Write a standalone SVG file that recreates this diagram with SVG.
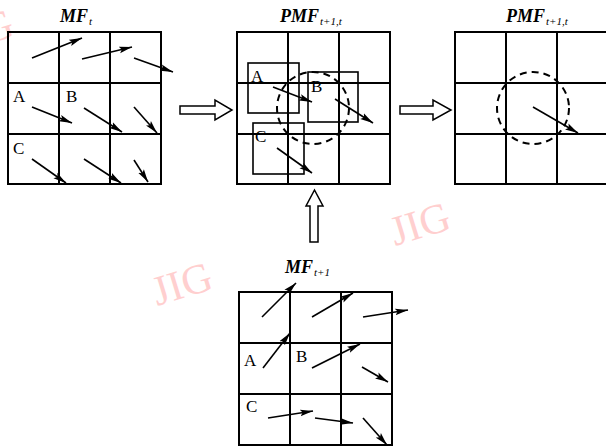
<svg xmlns="http://www.w3.org/2000/svg" width="606" height="446" viewBox="0 0 606 446">
<defs>
<marker id="ah" markerUnits="userSpaceOnUse" markerWidth="14" markerHeight="8" refX="13" refY="4" orient="auto">
<path d="M0,0.6 L13,4 L0,7.4 L2.5,4 Z" fill="#000"/>
</marker>
</defs>
<style>
.grid{fill:none;stroke:#000;stroke-width:2}
.vec{stroke:#000;stroke-width:1.6;fill:none;marker-end:url(#ah)}
.box{fill:none;stroke:#000;stroke-width:1.6}
.dash{fill:none;stroke:#000;stroke-width:2;stroke-dasharray:7 5}
.lbl{font-family:"Liberation Serif",serif;font-size:17px;fill:#000}
.ttl{font-family:"Liberation Serif",serif;font-size:18px;font-weight:bold;font-style:italic;fill:#000}
.sub{font-size:11px;font-weight:normal}
.blk{fill:#fff;stroke:#000;stroke-width:1.5}
.wm{font-family:"Liberation Serif",serif;font-size:42px;fill:#ffcfcf}
</style>
<rect width="606" height="446" fill="#fff"/>
<g id="watermarks">
<text class="wm" transform="translate(-42,53) rotate(-17)">JIG</text>
<text class="wm" transform="translate(157,306) rotate(-17)">JIG</text>
<text class="wm" transform="translate(395,246) rotate(-17)">JIG</text>
</g>
<g id="mf-t">
<text class="ttl" x="60" y="22">MF<tspan class="sub" dx="1" dy="3">t</tspan></text>
<rect class="grid" x="8" y="32" width="153" height="152"/>
<path class="grid" d="M59,32V184M110,32V184M8,83H161M8,134H161"/>
<text class="lbl" x="13" y="102">A</text>
<text class="lbl" x="66" y="102">B</text>
<text class="lbl" x="13" y="154">C</text>
<line class="vec" x1="32" y1="58" x2="82" y2="38"/>
<line class="vec" x1="82" y1="59" x2="132" y2="47"/>
<line class="vec" x1="134" y1="58" x2="173" y2="72"/>
<line class="vec" x1="32" y1="107" x2="72" y2="123"/>
<line class="vec" x1="84" y1="108" x2="122" y2="132"/>
<line class="vec" x1="134" y1="107" x2="157" y2="133"/>
<line class="vec" x1="32" y1="159" x2="66" y2="183"/>
<line class="vec" x1="84" y1="159" x2="121" y2="183"/>
<line class="vec" x1="134" y1="160" x2="148" y2="182"/>
</g>
<g id="pmf-mid">
<text class="ttl" x="280" y="22">PMF<tspan class="sub" dx="1" dy="3">t+1,t</tspan></text>
<rect class="grid" x="237" y="32" width="153" height="152"/>
<path class="grid" d="M288,32V184M339,32V184M237,83H390M237,134H390"/>
<rect class="box" x="248" y="63" width="51" height="50"/>
<rect class="box" x="308" y="72" width="50" height="50"/>
<rect class="box" x="253" y="123" width="51" height="51"/>
<circle class="dash" cx="313" cy="108" r="36"/>
<text class="lbl" x="251" y="82">A</text>
<text class="lbl" x="311" y="92">B</text>
<text class="lbl" x="255" y="142">C</text>
<line class="vec" x1="273" y1="87" x2="312" y2="102"/>
<line class="vec" x1="335" y1="99" x2="373" y2="123"/>
<line class="vec" x1="277" y1="148" x2="312" y2="173"/>
</g>
<g id="pmf-right">
<text class="ttl" x="506" y="22">PMF<tspan class="sub" dx="1" dy="3">t+1,t</tspan></text>
<rect class="grid" x="455" y="32" width="153" height="152"/>
<path class="grid" d="M506,32V184M557,32V184M455,83H608M455,134H608"/>
<circle class="dash" cx="533" cy="108" r="36"/>
<line class="vec" x1="533" y1="107" x2="578" y2="133"/>
</g>
<g id="mf-t1">
<text class="ttl" x="285" y="273">MF<tspan class="sub" dx="1" dy="3">t+1</tspan></text>
<rect class="grid" x="239" y="292" width="153" height="153"/>
<path class="grid" d="M290,292V445M341,292V445M239,343H392M239,394H392"/>
<text class="lbl" x="244" y="366">A</text>
<text class="lbl" x="296" y="362">B</text>
<text class="lbl" x="246" y="412">C</text>
<line class="vec" x1="262" y1="317" x2="296" y2="283"/>
<line class="vec" x1="312" y1="317" x2="353" y2="293"/>
<line class="vec" x1="363" y1="317" x2="408" y2="310"/>
<line class="vec" x1="263" y1="368" x2="290" y2="333"/>
<line class="vec" x1="312" y1="368" x2="360" y2="344"/>
<line class="vec" x1="362" y1="367" x2="388" y2="382"/>
<line class="vec" x1="268" y1="418" x2="313" y2="411"/>
<line class="vec" x1="315" y1="418" x2="353" y2="423"/>
<line class="vec" x1="363" y1="418" x2="387" y2="445"/>
</g>
<g id="connectors">
<path class="blk" d="M180,106H215V100L232,110L215,120V114H180Z"/>
<path class="blk" d="M400,106H433V100L451,110L433,120V114H400Z"/>
<path class="blk" d="M310,242V206H306L314.5,190L323,206H318V242Z"/>
</g>
</svg>
